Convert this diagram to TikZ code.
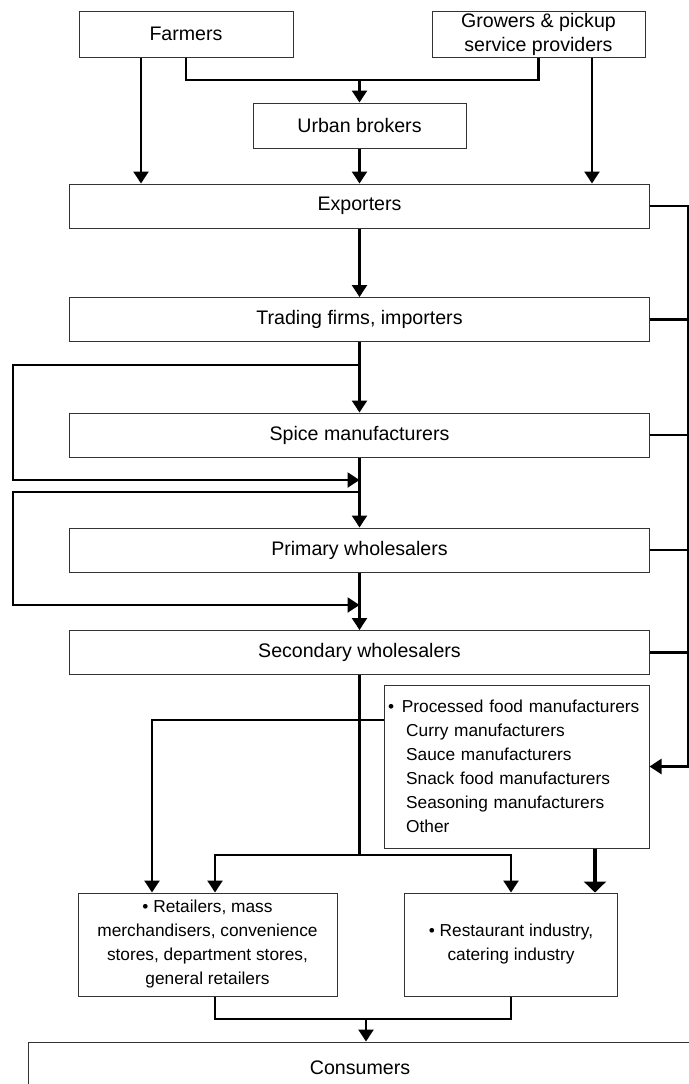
\documentclass[tikz,border=0pt]{standalone}
\usepackage{fontspec}
\setmainfont{Liberation Sans}
\usetikzlibrary{arrows.meta}
\newcommand{\bigtxt}{\fontsize{9.8pt}{12pt}\selectfont}
\newcommand{\smalltxt}{\fontsize{8.65pt}{12pt}\selectfont}

\begin{document}
\begin{tikzpicture}[x=0.5pt, y=-0.5pt,
        box/.style={draw=black!80, line width=0.5pt, inner sep=0pt, align=center, font=\bigtxt},
        lane/.style={box, minimum width=290pt, minimum height=22pt},
        flow/.style={line width=1.2pt},
        arr/.style={flow, -{Triangle[length=6pt, width=7.5pt]}},
        heavy/.style={line width=2.2pt, -{Triangle[length=5.5pt, width=11pt]}}]

        \useasboundingbox (0,0) rectangle (689,1084);

        % columns and joints
        \coordinate (colA) at (141,0);
        \coordinate (colR) at (592,0);
        \coordinate (colL) at (215,0);
        \coordinate (colK) at (152,0);
        \coordinate (colQ) at (595,0);
        \coordinate (rail) at (688,0);
        \coordinate (lrail) at (13,0);
        \coordinate (pfrow) at (0,720);
        \coordinate (topjoin) at (359.5,80);
        \coordinate (split1) at (359.5,365);
        \coordinate (merge1) at (359.5,480);
        \coordinate (split2) at (359.5,492);
        \coordinate (merge2) at (359.5,605);
        \coordinate (split3) at (359.5,855);
        \coordinate (merge3) at (366,1019);

        \node[box, minimum width=107pt, minimum height=23pt] (farmers) at (186,34) {Farmers};
        \node[box, minimum width=106.5pt, minimum height=23pt] (growers) at (538.5,34) {Growers \& pickup\\service providers};
        \node[box, minimum width=106.5pt, minimum height=22.5pt] (urban) at (359.5,125.5) {Urban brokers};
        \node[lane] (exporters) at (359.5,206) {Exporters};
        \node[lane] (trading) at (359.5,319.5) {Trading firms, importers};
        \node[lane] (spice) at (359.5,435) {Spice manufacturers};
        \node[lane] (primary) at (359.5,550) {Primary wholesalers};
        \node[lane] (secondary) at (359.5,652.5) {Secondary wholesalers};
        \node[box, font=\smalltxt, align=left, text width=128.5pt, inner xsep=2pt, minimum height=81.5pt] (processed) at (516.5,766.5)
            {\textbullet\hspace{0.45em}Processed food manufacturers\\
             \hspace*{1.05em}Curry manufacturers\\
             \hspace*{1.05em}Sauce manufacturers\\
             \hspace*{1.05em}Snack food manufacturers\\
             \hspace*{1.05em}Seasoning manufacturers\\
             \hspace*{1.05em}Other};
        \node[box, font=\smalltxt, minimum width=129.5pt, minimum height=51.5pt] (retailers) at (207.5,944.5)
            {\textbullet\ Retailers, mass\\merchandisers, convenience\\stores, department stores,\\general retailers};
        \node[box, font=\smalltxt, minimum width=106.5pt, minimum height=51.5pt] (restaurant) at (511,944.5)
            {\textbullet\ Restaurant industry,\\catering industry};
        \node[box, minimum width=331.5pt, minimum height=26pt] (consumers) at (360,1068) {Consumers};

        % top
        \draw[arr] (farmers.south -| colA) -- (exporters.north -| colA);
        \draw[arr] (growers.south -| colR) -- (exporters.north -| colR);
        \draw[flow] (farmers.south) |- (topjoin) -| (growers.south);
        \draw[arr] (topjoin) -- (urban);
        \draw[arr] (urban) -- (exporters);

        % main column
        \draw[arr] (exporters) -- (trading);
        \draw[arr] (trading) -- (spice);
        \draw[arr] (spice) -- (primary);
        \draw[arr] (primary) -- (secondary);
        \draw[arr] (split1) -- (split1 -| lrail) |- (merge1);
        \draw[arr] (split2) -- (split2 -| lrail) |- (merge2);

        % right rail
        \foreach \n in {trading, spice, primary, secondary}
            \draw[flow] (\n.east) -- (\n.east -| rail);
        \draw[arr] (exporters.east) -| (processed.east -| rail) -- (processed.east);

        % lower part
        \draw[flow] (secondary) -- (split3);
        \draw[arr] (split3) -| (retailers.north -| colL);
        \draw[arr] (split3) -| (restaurant.north);
        \draw[arr] (processed.west |- pfrow) -| (retailers.north -| colK);
        \draw[heavy] (processed.south -| colQ) -- (restaurant.north -| colQ);
        \draw[flow] (retailers.south -| colL) |- (merge3) -| (restaurant.south);
        \draw[arr] (merge3) -- (merge3 |- consumers.north);
\end{tikzpicture}
\end{document}
